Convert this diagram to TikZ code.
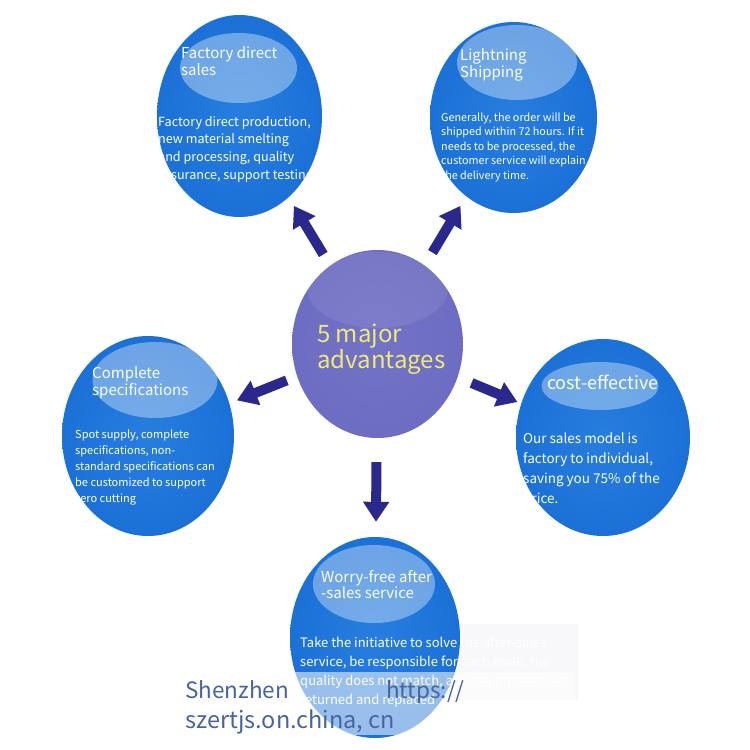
\documentclass[tikz,border=0pt]{standalone}
\usepackage{fontspec}
\setmainfont{Noto Sans CJK SC}
\usetikzlibrary{arrows.meta,shapes.geometric}
\definecolor{bA}{RGB}{40,126,222}
\definecolor{bB}{RGB}{26,112,214}
\definecolor{bC}{RGB}{18,96,202}
\definecolor{bD}{RGB}{10,78,182}
\definecolor{pA}{RGB}{114,114,198}
\definecolor{pB}{RGB}{108,108,194}
\definecolor{pC}{RGB}{100,100,186}
\definecolor{pD}{RGB}{84,84,170}
\definecolor{arrowc}{RGB}{42,40,140}
\definecolor{goldtext}{RGB}{242,232,120}
\definecolor{wmark}{RGB}{72,100,160}
\definecolor{fadegray}{RGB}{248,248,250}
\pgfdeclareradialshading{blueball}{\pgfpoint{0bp}{0bp}}{color(0bp)=(bA); color(26bp)=(bB); color(42bp)=(bC); color(50bp)=(bD)}
\pgfdeclareradialshading{purpleball}{\pgfpoint{0bp}{0bp}}{color(0bp)=(pA); color(28bp)=(pB); color(44bp)=(pC); color(50bp)=(pD)}
\tikzset{
  ball/.style={ellipse, inner sep=0pt, shading=blueball},
  cball/.style={ellipse, inner sep=0pt, shading=purpleball},
  hl/.style={fill=white, fill opacity=0.36},
  tline/.style={anchor=base west, inner sep=0pt, text=white},
  bigarrow/.style={draw=arrowc, line width=10pt, -{Triangle[width=25pt,length=20pt]}},
}
\begin{document}
\begin{tikzpicture}[x=1pt,y=-1pt]
\useasboundingbox (0,0) rectangle (750,750);
\fill[white] (0,0) rectangle (750,750);
\fill[fadegray] (420,624) rectangle (578,700);
% balls
\node[ball, minimum width=165pt, minimum height=202pt] (tl) at (239.5,116) {};
\node[ball, minimum width=167pt, minimum height=191pt] (tr) at (513.5,117.5) {};
\node[ball, minimum width=172pt, minimum height=200pt] (l) at (148,436) {};
\node[ball, minimum width=174pt, minimum height=197pt] (r) at (603,437.5) {};
\node[ball, minimum width=170pt, minimum height=201pt] (b) at (375,637.5) {};
\node[cball, minimum width=171pt, minimum height=188pt] (c) at (377.5,344) {};
% highlights
\fill[hl] (238.5,68) ellipse [x radius=58.5, y radius=35];
\fill[hl] (517,62.5) ellipse [x radius=60, y radius=37.5];
\fill[hl] (155,380) ellipse [x radius=62.5, y radius=38];
\fill[hl] (600,386) ellipse [x radius=58.5, y radius=24];
\fill[hl] (374,584) ellipse [x radius=61, y radius=39];
\fill[white, fill opacity=0.08] (377.5,290) ellipse [x radius=70, y radius=38];
% arrows
\draw[bigarrow, shorten <=13pt, shorten >=10pt] (c) -- (tl);
\draw[bigarrow, shorten <=15pt, shorten >=11pt] (c) -- (tr);
\draw[bigarrow, shorten <=11pt, shorten >=8pt] (c) -- (l);
\draw[bigarrow, shorten <=15pt, shorten >=4pt] (c) -- (r);
\draw[bigarrow, shorten <=24pt, shorten >=15pt] (c) -- (b);
% centre text
\foreach \t [count=\i from 0] in {5 major, advantages}
  \node[tline, text=goldtext, font=\fontsize{24}{28}\selectfont] (ct\i) at (317,{342+26*\i}) {\t};
% top-left
\foreach \t [count=\i from 0] in {Factory direct, sales}
  \node[tline, font=\fontsize{15}{18}\selectfont] (tlh\i) at (181,{58+17*\i}) {\t};
\foreach \t [count=\i from 0] in {{Factory direct production,},{new material smelting},{and processing, quality},{assurance, support testing}}
  \node[tline, font=\fontsize{12.6}{16}\selectfont] (tlb\i) at (158,{126+17.7*\i}) {\t};
% top-right
\foreach \t [count=\i from 0] in {Lightning, Shipping}
  \node[tline, font=\fontsize{15}{18}\selectfont] (trh\i) at (460,{60+17*\i}) {\t};
\foreach \t [count=\i from 0] in {{Generally, the order will be},{shipped within 72 hours. If it},{needs to be processed, the},{customer service will explain},{the delivery time.}}
  \node[tline, font=\fontsize{10.8}{14}\selectfont] (trb\i) at (441,{121+14.5*\i}) {\t};
% left
\foreach \t [count=\i from 0] in {Complete, specifications}
  \node[tline, font=\fontsize{15}{18}\selectfont] (lh\i) at (92,{378+17*\i}) {\t};
\foreach \t [count=\i from 0] in {{Spot supply, complete},{specifications, non-},{standard specifications can},{be customized to support},{zero cutting}}
  \node[tline, font=\fontsize{11}{14}\selectfont] (lb\i) at (75,{438+16*\i}) {\t};
% right
\node[tline, font=\fontsize{18}{22}\selectfont] (rh0) at (547,389) {cost-effective};
\foreach \t [count=\i from 0] in {{Our sales model is},{factory to individual,},{saving you 75\% of the},{price.}}
  \node[tline, font=\fontsize{13.5}{16}\selectfont] (rb\i) at (523,{443+20*\i}) {\t};
% bottom
\foreach \t [count=\i from 0] in {Worry-free after, -sales service}
  \node[tline, font=\fontsize{15}{18}\selectfont] (bh\i) at (321,{582+16.5*\i}) {\t};
\foreach \t [count=\i from 0] in {{Take the initiative to solve the after-sales},{service, be responsible for each issue, the},{quality does not match, and the product can},{returned and replaced}}
  \node[tline, font=\fontsize{13}{16}\selectfont] (bb\i) at (300,{647+19*\i}) {\t};
% watermark
\fill[white, fill opacity=0.55] (177,672) rectangle (575,735);
\node[tline, text=wmark, font=\fontsize{22.5}{28}\selectfont] (wm0) at (185,698) {Shenzhen};
\node[tline, text=wmark, font=\fontsize{22.5}{28}\selectfont] (wm1) at (386,698) {https://};
\node[tline, text=wmark, font=\fontsize{23.5}{28}\selectfont] (wm2) at (185,728) {szertjs.on.china, cn};
\end{tikzpicture}
\end{document}
